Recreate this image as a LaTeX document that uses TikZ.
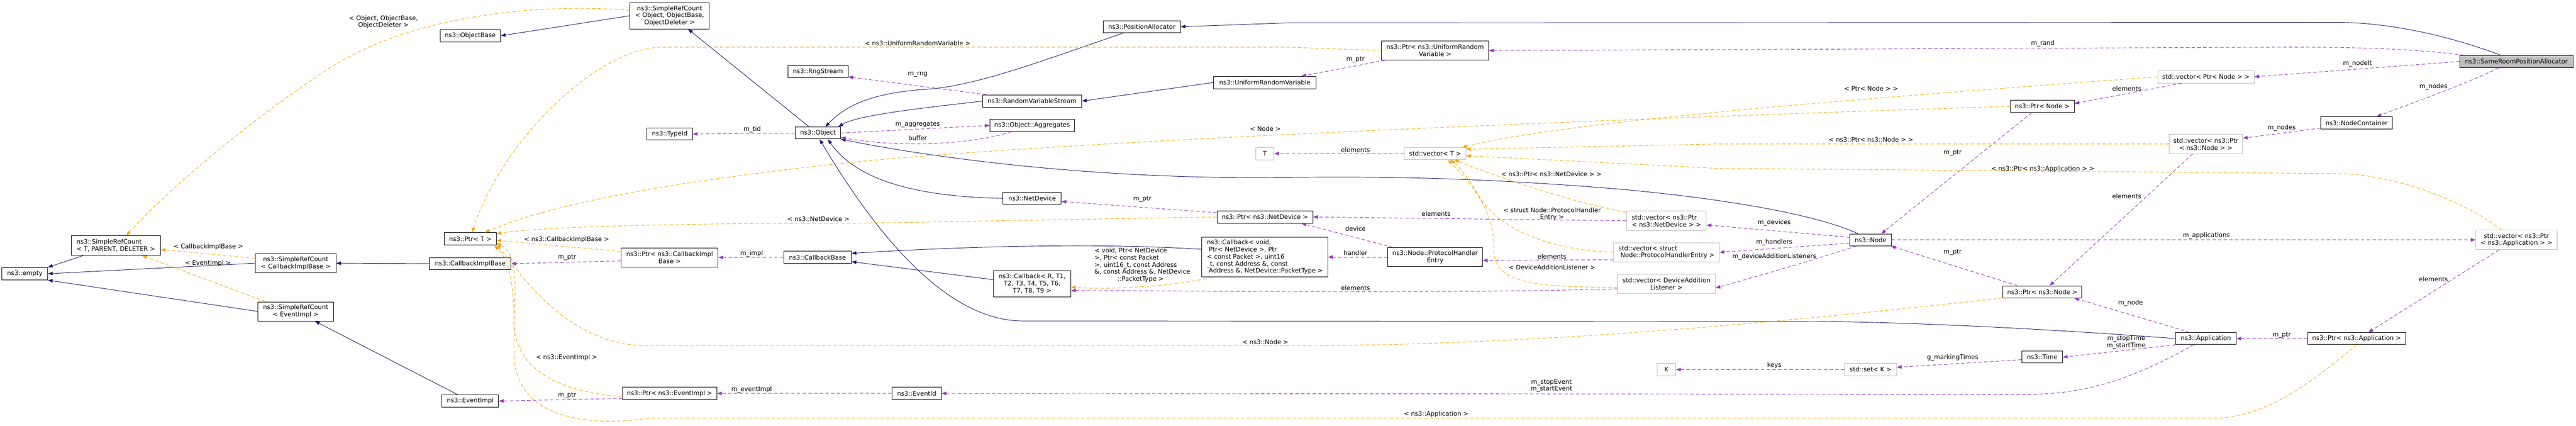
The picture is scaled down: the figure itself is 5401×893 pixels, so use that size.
\documentclass[tikz,border=0pt]{standalone}
\usepackage{fontspec}
\setmainfont{DejaVu Sans}
\usetikzlibrary{arrows.meta}
\definecolor{edgeblue}{RGB}{25,25,112}
\definecolor{edgepurple}{RGB}{154,50,205}
\definecolor{edgeorange}{RGB}{255,165,0}
\definecolor{boxgrey}{RGB}{191,191,191}
\newcommand{\dgfont}{\fontsize{9.8}{11.2}\selectfont}

\begin{document}
\begin{tikzpicture}[x=0.75pt, y=-0.75pt,
	box/.style={draw=black, line width=0.8pt, inner sep=0pt, align=center, font=\dgfont},
	ext/.style={box, draw=boxgrey},
	sz/.style 2 args={minimum width=#1*0.75pt, minimum height=#2*0.75pt},
	lbl/.style={inner sep=0pt, align=center, text=black, font=\dgfont},
	inherit/.style={draw=edgeblue, line width=0.75pt, -{Triangle[length=7.5pt, width=5.5pt]}},
	member/.style={draw=edgepurple, line width=0.75pt, dash pattern=on 5.5pt off 3.5pt, -{Triangle[length=7.5pt, width=5.5pt]}},
	templ/.style={draw=edgeorange, line width=0.75pt, dash pattern=on 5.5pt off 3.5pt, -{Triangle[length=7.5pt, width=5.5pt]}}]
	\useasboundingbox (0,0) rectangle (5401,893);
	\node[box, sz={96}{26}] (empty) at (52,574) {ns3::empty};
	\node[box, sz={187}{41}, align=left] (srcT) at (243,515) {ns3::SimpleRefCount\\< T, PARENT, DELETER >};
	\node[box, sz={169}{40}] (srcCib) at (620,552) {ns3::SimpleRefCount\\< CallbackImplBase >};
	\node[box, sz={159}{40}] (srcEv) at (620,653) {ns3::SimpleRefCount\\< EventImpl >};
	\node[box, sz={166}{55}] (srcObj) at (1404,33) {ns3::SimpleRefCount\\< Object, ObjectBase,\\ObjectDeleter >};
	\node[box, sz={127}{25}] (objBase) at (986,75) {ns3::ObjectBase};
	\node[box, sz={109}{26}] (ptrT) at (986,501) {ns3::Ptr< T >};
	\node[box, sz={171}{25}] (cib) at (986,553) {ns3::CallbackImplBase};
	\node[box, sz={119}{26}] (evImpl) at (986,841) {ns3::EventImpl};
	\node[box, sz={96}{25}] (typeId) at (1404,281) {ns3::TypeId};
	\node[box, sz={203}{40}] (ptrCib) at (1404,540) {ns3::Ptr< ns3::CallbackImpl\\Base >};
	\node[box, sz={198}{26}] (ptrEv) at (1404,825) {ns3::Ptr< ns3::EventImpl >};
	\node[box, sz={126}{25}] (rng) at (1715,150) {ns3::RngStream};
	\node[box, sz={95}{25}] (object) at (1715,279) {ns3::Object};
	\node[box, sz={142}{26}] (cbBase) at (1714,540) {ns3::CallbackBase};
	\node[box, sz={103}{26}] (eventId) at (1922,825) {ns3::EventId};
	\node[box, sz={208}{26}] (rvs) at (2164,212) {ns3::RandomVariableStream};
	\node[box, sz={177}{26}] (aggr) at (2164,263) {ns3::Object::Aggregates};
	\node[box, sz={122}{25}] (netDev) at (2164,416) {ns3::NetDevice};
	\node[box, sz={162}{55}] (cbGen) at (2164,595) {ns3::Callback< R, T1,\\T2, T3, T4, T5, T6,\\T7, T8, T9 >};
	\node[box, sz={162}{25}] (posAlloc) at (2394,56) {ns3::PositionAllocator};
	\node[box, sz={215}{26}] (urv) at (2652,173) {ns3::UniformRandomVariable};
	\node[ext, sz={38}{26}] (tT) at (2652,322) {T};
	\node[box, sz={201}{26}] (ptrNd) at (2652,455) {ns3::Ptr< ns3::NetDevice >};
	\node[box, sz={264}{84}, align=left] (cbVoid) at (2652,539) {ns3::Callback< void,\\\ Ptr< NetDevice >, Ptr\\< const Packet >, uint16\\\_t, const Address \&, const\\\ Address \&, NetDevice::PacketType >};
	\node[box, sz={224}{40}] (ptrUrv) at (3009,106) {ns3::Ptr< ns3::UniformRandom\\Variable >};
	\node[ext, sz={129}{25}] (vecT) at (3009,322) {std::vector< T >};
	\node[box, sz={199}{40}] (phe) at (3009,539) {ns3::Node::ProtocolHandler\\Entry};
	\node[ext, sz={167}{41}, align=left] (vecNd) at (3494,463) {std::vector< ns3::Ptr\\< ns3::NetDevice > >};
	\node[ext, sz={222}{40}, align=left] (vecPhe) at (3494,529) {std::vector< struct\\\ Node::ProtocolHandlerEntry >};
	\node[ext, sz={205}{40}] (vecDal) at (3494,595) {std::vector< DeviceAddition\\Listener >};
	\node[ext, sz={39}{26}] (kK) at (3494,775) {K};
	\node[box, sz={87}{25}] (nsNode) at (3922,503) {ns3::Node};
	\node[ext, sz={109}{26}] (setK) at (3922,775) {std::set< K >};
	\node[box, sz={134}{26}] (ptrNode) at (4282,223) {ns3::Ptr< Node >};
	\node[box, sz={166}{25}] (ptrNsNode) at (4282,612) {ns3::Ptr< ns3::Node >};
	\node[box, sz={85}{25}] (time) at (4282,749) {ns3::Time};
	\node[ext, sz={202}{26}] (vecPtrNode) at (4625,161) {std::vector< Ptr< Node > >};
	\node[ext, sz={154}{41}] (vecNsNode) at (4625,302) {std::vector< ns3::Ptr\\< ns3::Node > >};
	\node[box, sz={127}{25}] (app) at (4625,710) {ns3::Application};
	\node[box, sz={150}{26}] (nodeCont) at (4941,258) {ns3::NodeContainer};
	\node[box, sz={205}{25}] (ptrApp) at (4941,710) {ns3::Ptr< ns3::Application >};
	\node[ext, sz={170}{41}] (vecApp) at (5276,503) {std::vector< ns3::Ptr\\< ns3::Application > >};
	\node[box, sz={238}{26}, fill=boxgrey] (sameRoom) at (5276,129) {ns3::SameRoomPositionAllocator};

	\draw[inherit] (srcT.197) -- (empty.north east);
	\draw[inherit] (srcCib.west) -- (empty.east);
	\draw[inherit] (srcEv.west) -- (empty.south east);
	\draw[inherit] (srcObj.west) -- (objBase.east);
	\draw[inherit] (object.145) -- (srcObj.-36);
	\draw[inherit] (cib.west) -- (srcCib.east);
	\draw[inherit] (evImpl.153) -- (srcEv.-27);
	\draw[inherit] (posAlloc.-161) .. controls (2200,122) and (2050,180) .. (1944,187) .. controls (1820,195) and (1770,225) .. (object.40);
	\draw[inherit] (rvs.west) .. controls (1950,225) and (1800,240) .. (object.17);
	\draw[inherit] (urv.west) -- (rvs.east);
	\draw[inherit] (netDev.west) .. controls (1900,412) and (1790,370) .. (object.-32);
	\draw[inherit] (nsNode.154) .. controls (3820,455) and (3650,420) .. (3400,397) .. controls (3100,372) and (2900,370) .. (2700,372) .. controls (2300,378) and (1950,330) .. (object.-15);
	\draw[inherit] (app.west) .. controls (4300,690) and (4000,675) .. (3800,674) -- (2144,673) .. controls (1980,673) and (1830,480) .. (object.-75);
	\draw[inherit] (sameRoom.158) .. controls (5120,70) and (5000,47) .. (4900,47) -- (2700,48) -- (posAlloc.east);
	\draw[inherit] (cbGen.174) -- (cbBase.-7);
	\draw[inherit] (cbVoid.173) .. controls (2350,512) and (2100,512) .. (cbBase.7);

	\draw[templ] (srcObj.172) .. controls (1100,5) and (850,40) .. (689,144) .. controls (520,255) and (350,400) .. (srcT.44) node[lbl] (lObj) at (804,46) {< Object, ObjectBase,\\ObjectDeleter >};
	\draw[templ] (srcCib.173) -- (srcT.-5) node[lbl] (lCib) at (437,518) {< CallbackImplBase >};
	\draw[templ] (srcEv.162) -- (srcT.-21) node[lbl] (lEv) at (436,552) {< EventImpl >};
	\draw[templ] (ptrUrv.west) -- (2700,99) -- (1390,99) .. controls (1250,99) and (1050,300) .. (ptrT.75) node[lbl] (lUrv) at (1924,91) {< ns3::UniformRandomVariable >};
	\draw[templ] (ptrNode.west) .. controls (3200,255) and (2200,300) .. (1800,339) .. controls (1400,380) and (1150,430) .. (ptrT.24) node[lbl] (lNode) at (2653,270) {< Node >};
	\draw[templ] (ptrNd.west) -- (1800,468) .. controls (1300,468) and (1100,480) .. (ptrT.11) node[lbl] (lNd) at (1716,459) {< ns3::NetDevice >};
	\draw[templ] (ptrCib.173) -- (ptrT.-3) node[lbl] (lPCib) at (1188,502) {< ns3::CallbackImplBase >};
	\draw[templ] (ptrEv.-176) .. controls (1150,820) and (1070,760) .. (1078,660) .. controls (1085,570) and (1075,525) .. (ptrT.-9) node[lbl] (lPEv) at (1188,750) {< ns3::EventImpl >};
	\draw[templ] (ptrNsNode.south west) .. controls (3700,680) and (3200,725) .. (2700,725) -- (1360,725) .. controls (1200,725) and (1110,600) .. (ptrT.-12) node[lbl] (lNsNode) at (2653,717) {< ns3::Node >};
	\draw[templ] (ptrApp.south) .. controls (4850,800) and (4750,877) .. (4640,877) -- (1360,877) .. controls (1200,900) and (1080,860) .. (1078,746) .. controls (1078,640) and (1080,560) .. (ptrT.-15) node[lbl] (lApp) at (3011,869) {< ns3::Application >};
	\draw[templ] (cbVoid.-159) .. controls (2460,600) and (2330,608) .. (cbGen.-5) node[lbl, align=left] (lVoid) at (2395,556) {< void, Ptr< NetDevice\\>, Ptr< const Packet\\>, uint16\_t, const Address\\\&, const Address \&, NetDevice\\\hspace*{3.7em}::PacketType >};
	\draw[templ] (vecPtrNode.west) .. controls (4000,200) and (3300,250) .. (vecT.13) node[lbl] (lPtrNode) at (3923,186) {< Ptr< Node > >};
	\draw[templ] (vecNsNode.west) -- (3600,302) -- (vecT.8) node[lbl] (lNsPtr) at (3923,293) {< ns3::Ptr< ns3::Node > >};
	\draw[templ] (vecApp.146) .. controls (5150,410) and (5000,364) .. (4900,364) -- (3600,353) -- (vecT.-4) node[lbl] (lAppPtr) at (4283,355) {< ns3::Ptr< ns3::Application > >};
	\draw[templ] (vecNd.168) .. controls (3300,425) and (3150,375) .. (vecT.-18) node[lbl] (lNdPtr) at (3253,365) {< ns3::Ptr< ns3::NetDevice > >};
	\draw[templ] (vecPhe.west) .. controls (3250,525) and (3140,480) .. (3100,410) .. controls (3080,375) and (3060,350) .. (vecT.-22) node[lbl] (lPhe) at (3254,449) {< struct Node::ProtocolHandler\\Entry >};
	\draw[templ] (vecDal.184) .. controls (3200,603) and (3130,590) .. (3132,520) .. controls (3134,440) and (3080,380) .. (vecT.-26) node[lbl] (lDal) at (3254,561) {< DeviceAdditionListener >};

	\draw[member] (sameRoom.173) .. controls (5050,102) and (4950,99) .. (4800,99) -- (ptrUrv.east) node[lbl] (lRand) at (4283,91) {m\_rand};
	\draw[member] (sameRoom.west) -- (vecPtrNode.east) node[lbl] (lNodeIt) at (4943,133) {m\_nodeIt};
	\draw[member] (sameRoom.-160) .. controls (5160,180) and (5060,215) .. (nodeCont.18) node[lbl] (lNodesA) at (5102,182) {m\_nodes};
	\draw[member] (nodeCont.-172) -- (vecNsNode.9) node[lbl] (lNodesB) at (4784,268) {m\_nodes};
	\draw[member] (vecPtrNode.-165) -- (ptrNode.5) node[lbl] (lElA) at (4459,186) {elements};
	\draw[member] (vecNsNode.-143) -- (ptrNsNode.40) node[lbl] (lElB) at (4459,412) {elements};
	\draw[member] (ptrNode.-149) -- (nsNode.30) node[lbl] (lPtrA) at (4094,321) {m\_ptr};
	\draw[member] (ptrNsNode.166) -- (nsNode.-17) node[lbl] (lPtrB) at (4094,529) {m\_ptr};
	\draw[member] (nsNode.east) -- (vecApp.west) node[lbl] (lApps) at (4626,494) {m\_applications};
	\draw[member] (vecApp.-150) -- (ptrApp.28) node[lbl] (lElC) at (5102,585) {elements};
	\draw[member] (ptrApp.west) -- (app.east) node[lbl] (lPtrC) at (4784,703) {m\_ptr};
	\draw[member] (app.159) -- (ptrNsNode.-11) node[lbl] (lMNode) at (4467,635) {m\_node};
	\draw[member] (app.south west) -- (time.east) node[lbl] (lTimes) at (4458,718) {m\_stopTime\\m\_startTime};
	\draw[member] (time.-173) -- (setK.5) node[lbl] (lMark) at (4094,750) {g\_markingTimes};
	\draw[member] (setK.west) -- (kK.east) node[lbl] (lKeys) at (3720,766) {keys};
	\draw[member] (app.-153) .. controls (4480,790) and (4380,827) .. (4250,827) -- (eventId.east) node[lbl] (lEvents) at (3253,809) {m\_stopEvent\\m\_startEvent};
	\draw[member] (eventId.west) -- (ptrEv.east) node[lbl] (lEvImpl) at (1576,817) {m\_eventImpl};
	\draw[member] (ptrEv.-174) -- (evImpl.east) node[lbl] (lPtrD) at (1189,829) {m\_ptr};
	\draw[member] (ptrCib.-176) -- (cib.east) node[lbl] (lPtrE) at (1189,540) {m\_ptr};
	\draw[member] (cbBase.west) -- (ptrCib.east) node[lbl] (lImpl) at (1576,532) {m\_impl};
	\draw[member] (object.west) -- (typeId.east) node[lbl] (lTid) at (1577,272) {m\_tid};
	\draw[member] (rvs.172) -- (rng.-10) node[lbl] (lRng) at (1924,156) {m\_rng};
	\draw[member] (object.east) -- (aggr.west) node[lbl] (lAggr) at (1924,261) {m\_aggregates};
	\draw[member] (aggr.-163) .. controls (2050,300) and (1900,312) .. (object.-11) node[lbl] (lBuf) at (1924,289) {buffer};
	\draw[member] (ptrNd.175) -- (netDev.-6) node[lbl] (lPtrF) at (2395,418) {m\_ptr};
	\draw[member] (ptrUrv.-169) -- (urv.10) node[lbl] (lPtrG) at (2842,125) {m\_ptr};
	\draw[member] (vecT.west) -- (tT.east) node[lbl] (lElD) at (2842,314) {elements};
	\draw[member] (nsNode.173) -- (vecNd.-6) node[lbl] (lDev) at (3720,467) {m\_devices};
	\draw[member] (nsNode.-171) -- (vecPhe.east) node[lbl] (lHand) at (3720,508) {m\_handlers};
	\draw[member] (nsNode.-157) .. controls (3820,540) and (3700,575) .. (vecDal.-5) node[lbl] (lListen) at (3720,538) {m\_deviceAdditionListeners};
	\draw[member] (vecNd.west) -- (ptrNd.east) node[lbl] (lElE) at (3011,448) {elements};
	\draw[member] (phe.167) -- (ptrNd.-10) node[lbl] (lDevice) at (2842,480) {device};
	\draw[member] (phe.west) -- (cbVoid.east) node[lbl] (lHandler) at (2842,530) {handler};
	\draw[member] (vecPhe.-172) -- (phe.-4) node[lbl] (lElF) at (3254,538) {elements};
	\draw[member] (vecDal.-174) .. controls (3000,616) and (2600,610) .. (cbGen.-10) node[lbl] (lElG) at (2842,604) {elements};
\end{tikzpicture}
\end{document}
